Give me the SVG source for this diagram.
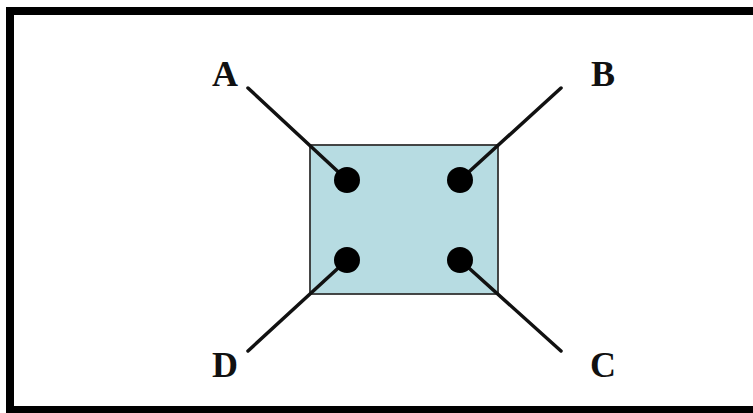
<svg xmlns="http://www.w3.org/2000/svg" width="753" height="413" viewBox="0 0 753 413">
<style>
.lbl{font-family:"Liberation Serif","Times New Roman",serif;font-weight:bold;font-size:36px;fill:#111;text-anchor:middle}
.wire{stroke:#111;stroke-width:3.5;stroke-linecap:round;fill:none}
.pin{fill:#000}
</style>
<rect x="0" y="0" width="753" height="413" fill="#fff"/>
<rect id="frame" x="10" y="11" width="760" height="399" fill="#fff" stroke="#000" stroke-width="8"/>
<g id="chip">
<rect x="310" y="145" width="188" height="149" fill="#b7dce2" stroke="#333" stroke-width="1.8"/>
</g>
<g id="connectors">
<line class="wire" x1="248" y1="88" x2="347" y2="180"/>
<line class="wire" x1="561" y1="88" x2="460" y2="180"/>
<line class="wire" x1="248" y1="351" x2="347" y2="260"/>
<line class="wire" x1="561" y1="351" x2="460" y2="260"/>
</g>
<g id="pinA"><ellipse class="pin" cx="347" cy="180" rx="13" ry="13"/></g>
<g id="pinB"><ellipse class="pin" cx="460" cy="180" rx="13" ry="13"/></g>
<g id="pinD"><ellipse class="pin" cx="347" cy="260" rx="13" ry="13"/></g>
<g id="pinC"><ellipse class="pin" cx="460" cy="260" rx="13" ry="13"/></g>
<g id="labelA"><text class="lbl" x="225" y="86">A</text></g>
<g id="labelB"><text class="lbl" x="603" y="86">B</text></g>
<g id="labelD"><text class="lbl" x="225" y="377">D</text></g>
<g id="labelC"><text class="lbl" x="603" y="377">C</text></g>
</svg>
